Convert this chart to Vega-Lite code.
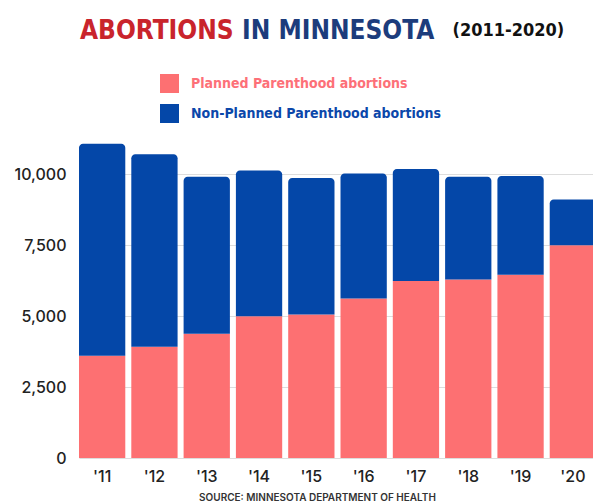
{
  "$schema": "https://vega.github.io/schema/vega-lite/v6.json",
  "autosize": {"type": "none"},
  "padding": {"left": 76, "top": 140, "right": 0, "bottom": 44},
  "width": 517,
  "height": 318,
  "background": "white",
  "title": {
    "text": "ABORTIONS",
    "subtitle": "IN MINNESOTA",
    "anchor": "start",
    "frame": "group",
    "dx": 4,
    "dy": 43,
    "offset": 20,
    "font": "DejaVu Sans Condensed",
    "fontSize": 26,
    "fontWeight": "bold",
    "color": "#c9242c",
    "subtitleFont": "DejaVu Sans Condensed",
    "subtitleFontSize": 26,
    "subtitleFontWeight": "bold",
    "subtitleColor": "#1c3c7c",
    "subtitlePadding": -26,
    "encode": {"subtitle": {"update": {"dx": {"value": 166}}}}
  },
  "data": {
    "values": [
      {"year": "'11", "type": "Planned Parenthood abortions", "count": 3600},
      {"year": "'11", "type": "Non-Planned Parenthood abortions", "count": 7471},
      {"year": "'12", "type": "Planned Parenthood abortions", "count": 3920},
      {"year": "'12", "type": "Non-Planned Parenthood abortions", "count": 6781},
      {"year": "'13", "type": "Planned Parenthood abortions", "count": 4380},
      {"year": "'13", "type": "Non-Planned Parenthood abortions", "count": 5523},
      {"year": "'14", "type": "Planned Parenthood abortions", "count": 4990},
      {"year": "'14", "type": "Non-Planned Parenthood abortions", "count": 5133},
      {"year": "'15", "type": "Planned Parenthood abortions", "count": 5050},
      {"year": "'15", "type": "Non-Planned Parenthood abortions", "count": 4811},
      {"year": "'16", "type": "Planned Parenthood abortions", "count": 5620},
      {"year": "'16", "type": "Non-Planned Parenthood abortions", "count": 4401},
      {"year": "'17", "type": "Planned Parenthood abortions", "count": 6230},
      {"year": "'17", "type": "Non-Planned Parenthood abortions", "count": 3947},
      {"year": "'18", "type": "Planned Parenthood abortions", "count": 6290},
      {"year": "'18", "type": "Non-Planned Parenthood abortions", "count": 3620},
      {"year": "'19", "type": "Planned Parenthood abortions", "count": 6450},
      {"year": "'19", "type": "Non-Planned Parenthood abortions", "count": 3486},
      {"year": "'20", "type": "Planned Parenthood abortions", "count": 7490},
      {"year": "'20", "type": "Non-Planned Parenthood abortions", "count": 1618}
    ]
  },
  "transform": [
    {"stack": "count", "groupby": ["year"], "sort": [{"field": "type", "order": "descending"}], "as": ["y0", "y1"]}
  ],
  "encoding": {
    "x": {
      "field": "year",
      "type": "ordinal",
      "sort": null,
      "scale": {"range": [3, 520], "paddingInner": 0.115, "paddingOuter": 0},
      "axis": {
        "title": "SOURCE:  MINNESOTA DEPARTMENT OF HEALTH",
        "titleFont": "Inter",
        "titleFontSize": 10,
        "titleFontWeight": 600,
        "titleColor": "#333333",
        "titleX": 241,
        "titlePadding": 8,
        "labelAngle": 0,
        "labelFont": "Inter",
        "labelFontSize": 16,
        "labelFontWeight": 500,
        "labelColor": "#222222",
        "labelPadding": 10,
        "ticks": false,
        "domain": false
      }
    },
    "y": {
      "field": "y0",
      "type": "quantitative",
      "scale": {"domain": [0, 11200], "nice": false},
      "axis": {
        "values": [0, 2500, 5000, 7500, 10000],
        "format": ",d",
        "title": "(2011-2020)",
        "titleAngle": 0,
        "titleX": 376,
        "titleY": -110,
        "titleAlign": "left",
        "titleBaseline": "middle",
        "titleFont": "DejaVu Sans Condensed",
        "titleFontSize": 18,
        "titleFontWeight": "bold",
        "titleColor": "#111111",
        "labelFont": "Inter",
        "labelFontSize": 16,
        "labelFontWeight": 500,
        "labelColor": "#222222",
        "labelPadding": 10,
        "ticks": false,
        "domain": false,
        "grid": true,
        "gridColor": "#dddddd",
        "gridWidth": 1
      }
    },
    "y2": {"field": "y1"},
    "color": {
      "field": "type",
      "type": "nominal",
      "scale": {
        "domain": ["Planned Parenthood abortions", "Non-Planned Parenthood abortions"],
        "range": ["#fd7072", "#0447a8"]
      },
      "legend": {
        "orient": "none",
        "legendX": 84,
        "legendY": -66,
        "direction": "vertical",
        "title": null,
        "symbolType": "square",
        "symbolSize": 361,
        "symbolStrokeWidth": 0,
        "symbolOpacity": 1,
        "labelFont": "DejaVu Sans Condensed",
        "labelFontSize": 14,
        "labelFontWeight": "bold",
        "labelOffset": 12,
        "labelLimit": 400,
        "rowPadding": 11,
        "encode": {
          "labels": {
            "update": {
              "fill": {"signal": "datum.value === 'Planned Parenthood abortions' ? '#fd7078' : '#0b47aa'"}
            }
          }
        }
      }
    }
  },
  "layer": [
    {
      "transform": [{"filter": "datum.type === 'Planned Parenthood abortions'"}],
      "mark": {"type": "bar", "clip": true}
    },
    {
      "transform": [{"filter": "datum.type === 'Non-Planned Parenthood abortions'"}],
      "mark": {"type": "bar", "clip": true, "cornerRadiusTopLeft": 4, "cornerRadiusTopRight": 4}
    }
  ],
  "config": {"view": {"stroke": null}}
}
